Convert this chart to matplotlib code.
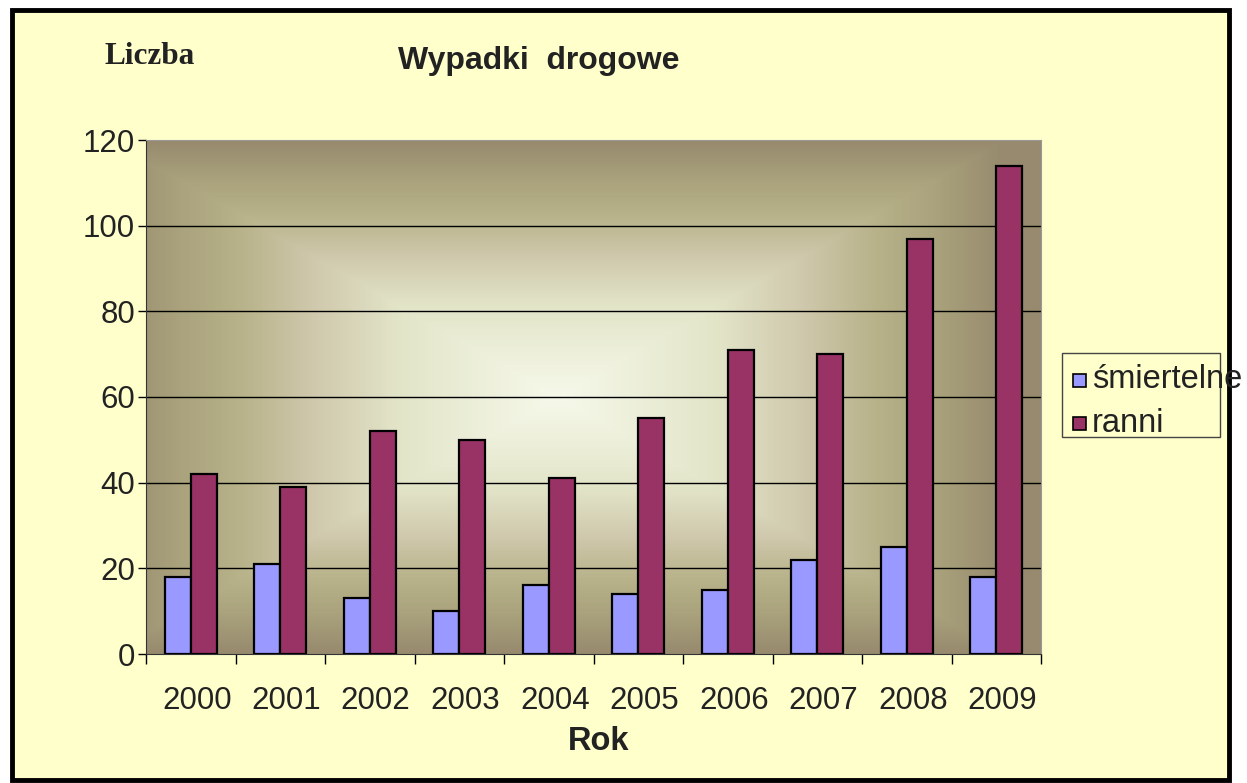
import numpy as np
import matplotlib.pyplot as plt
from matplotlib.colors import LinearSegmentedColormap
from matplotlib.patches import Rectangle

years = ["2000", "2001", "2002", "2003", "2004", "2005", "2006", "2007", "2008", "2009"]
smiertelne = [18, 21, 13, 10, 16, 14, 15, 22, 25, 18]
ranni = [42, 39, 52, 50, 41, 55, 71, 70, 97, 114]

W, H = 1247, 783
fig = plt.figure(figsize=(W / 100, H / 100), dpi=100)
fig.patch.set_facecolor("white")

# yellow chart area with thick black frame (behind the axes)
fig.patches.append(Rectangle((12 / W, 1 - 780 / H), 1217 / W, 770 / H,
                             transform=fig.transFigure, facecolor="#FFFFCC",
                             edgecolor="black", linewidth=3.5, zorder=-2))

ax = fig.add_axes([146 / W, 1 - 654 / H, 895 / W, 514 / H])

# rectangular "from center" gradient background
cmap = LinearSegmentedColormap.from_list(
    "bg", [(0.0, "#F6F9EA"), (0.35, "#E3E5C9"), (0.55, "#CFC8AC"),
           (0.7, "#B9B48C"), (0.85, "#A9A27C"), (1.0, "#978A6E")])
gx = np.linspace(-1, 1, 400)
gy = np.linspace(-1, 1, 300)
GX, GY = np.meshgrid(gx, gy)
cx, cy = -0.08, 0.0
dist = np.maximum(np.abs(GX - cx) / 1.0, np.abs(GY - cy) / 1.0)
ax.imshow(dist, cmap=cmap, extent=(-0.5, len(years) - 0.5, 0, 120),
          aspect="auto", origin="lower", zorder=0, vmin=0, vmax=1)

x = np.arange(len(years))
w = 0.29
ax.bar(x - w / 2, smiertelne, w, color="#9999FF", edgecolor="black",
       linewidth=1.6, zorder=3)
ax.bar(x + w / 2, ranni, w, color="#993366", edgecolor="black",
       linewidth=1.6, zorder=3)

ax.set_xlim(-0.5, len(years) - 0.5)
ax.set_ylim(0, 120)
ax.set_yticks(range(0, 121, 20))
ax.set_yticklabels([str(v) for v in range(0, 121, 20)])
for v in range(20, 120, 20):
    ax.axhline(v, color="black", linewidth=1.0, zorder=1)

# boundaries get tick marks, labels sit slightly right of the bar pair (as in Excel)
ax.set_xticks(np.arange(-0.5, len(years), 1.0))
ax.set_xticklabels([])
ax.set_xticks(x + 0.067, minor=True)
ax.set_xticklabels(years, minor=True)
ax.tick_params(axis="x", which="major", direction="out", length=7, width=1,
               color="black")
ax.tick_params(axis="x", which="minor", length=0, pad=23, labelsize=22.5,
               labelcolor="#222222")
ax.tick_params(axis="y", direction="out", length=6, width=1, pad=2,
               labelsize=22.5, labelcolor="#222222")
for lab in ax.get_xticklabels(minor=True) + ax.get_yticklabels():
    lab.set_fontfamily("Liberation Sans")

ax.spines["left"].set_color("#333333")
ax.spines["bottom"].set_color("#333333")
ax.spines["top"].set_color("#999999")
ax.spines["right"].set_color("#999999")

fig.text(539 / W, 1 - 61 / H, "Wypadki  drogowe", fontsize=23,
         fontweight="bold", family="Liberation Sans", ha="center",
         va="center", color="#222222")
fig.text(150 / W, 1 - 56 / H, "Liczba", fontsize=22.5, fontweight="bold",
         family="Liberation Serif", ha="center", va="center",
         color="#222222")
fig.text(599 / W, 1 - 742 / H, "Rok", fontsize=23.5, fontweight="bold",
         family="Liberation Sans", ha="center", va="center",
         color="#222222")

# legend drawn by hand so text can run past its box like the original
fig.patches.append(Rectangle((1062 / W, 1 - 437 / H), 158 / W, 84 / H,
                             transform=fig.transFigure, facecolor="#FFFFCC",
                             edgecolor="#444444", linewidth=1.0, zorder=2))
for i, (lab, col) in enumerate([("śmiertelne", "#9999FF"), ("ranni", "#993366")]):
    yc = 1 - (380 + i * 43) / H
    fig.patches.append(Rectangle((1073 / W, yc - 6.5 / H), 13 / W, 13 / H,
                                 transform=fig.transFigure, facecolor=col,
                                 edgecolor="black", linewidth=1.2, zorder=3))
    fig.text(1092 / W, yc, lab, fontsize=23.5, family="Liberation Sans",
             ha="left", va="center", color="#222222", zorder=4)

fig.savefig("out.png", dpi=100)
